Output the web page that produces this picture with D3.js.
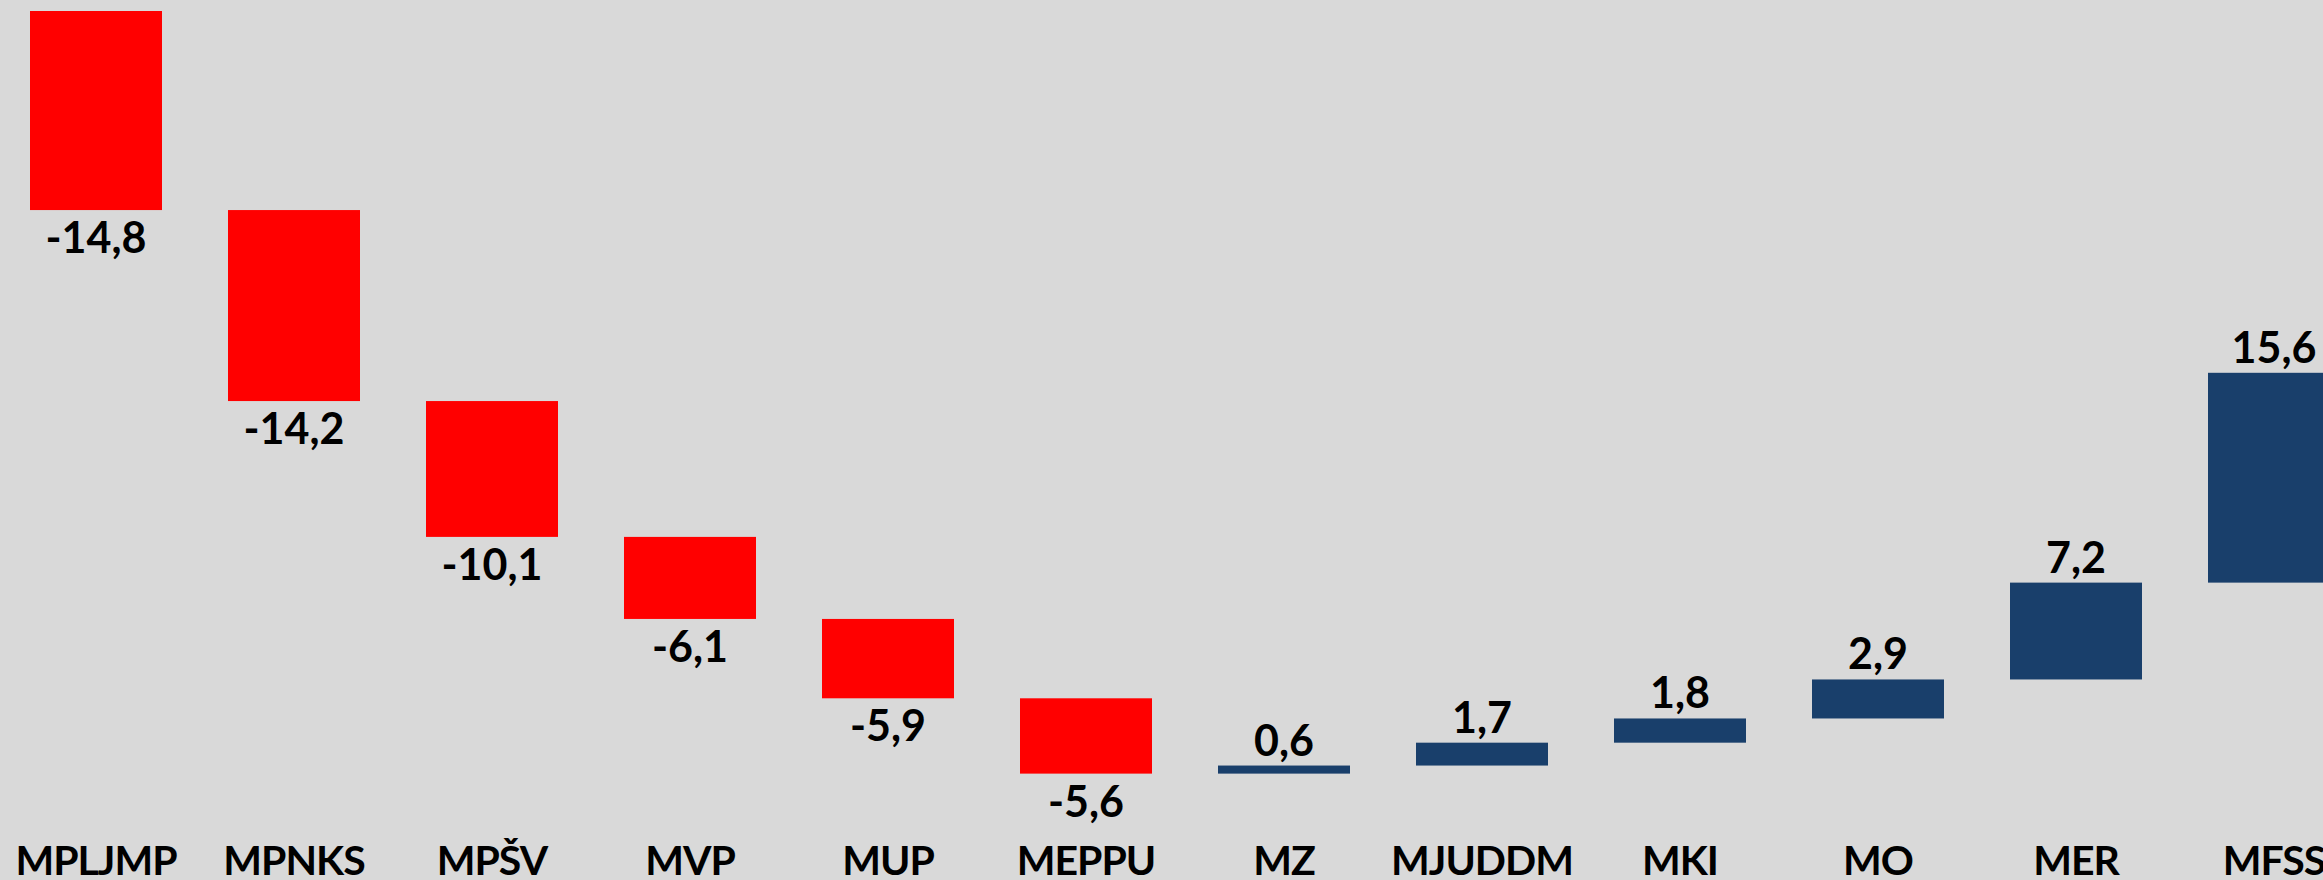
<!DOCTYPE html>
<html lang="en">
<head>
  <meta charset="UTF-8" />
  <title>Waterfall</title>
  <script src="https://cdn.jsdelivr.net/npm/d3@7"></script>
  <style>
    html, body {
      margin: 0;
      padding: 0;
      background-color: #d9d9d9;
      overflow: hidden;
    }
    text {
      font-family: Lato, "Open Sans", sans-serif;
      font-weight: 700;
      fill: #000;
    }
  </style>
</head>
<body>
  <div id="chart"></div>

  <script>
    // data
    const categories = ["MPLJMP", "MPNKS", "MPŠV", "MVP", "MUP", "MEPPU", "MZ", "MJUDDM", "MKI", "MO", "MER", "MFSS"];
    const changes = [-14.8, -14.2, -10.1, -6.1, -5.9, -5.6, 0.6, 1.7, 1.8, 2.9, 7.2, 15.6];
    const valueLabels = ["-14,8", "-14,2", "-10,1", "-6,1", "-5,9", "-5,6", "0,6", "1,7", "1,8", "2,9", "7,2", "15,6"];

    const width = 2323;
    const height = 880;

    // running totals for the floating bars
    let running = 0;
    const data = categories.map((c, i) => {
      const start = running;
      running += changes[i];
      return { cat: c, value: changes[i], label: valueLabels[i], start, end: running };
    });

    const svg = d3.select("#chart")
      .append("svg")
      .attr("width", width)
      .attr("height", height);

    // last column runs past the right edge, like in the original
    const x = d3.scaleBand()
      .domain(categories)
      .range([-3, 2373])
      .paddingInner(1 / 3)
      .paddingOuter(1 / 6);

    const minTotal = d3.min(data, d => Math.min(d.start, d.end));
    const y = d3.scaleLinear()
      .domain([0, minTotal])
      .range([11, 11 + Math.abs(minTotal) * 13.45]);

    svg.selectAll(".bar")
      .data(data)
      .enter()
      .append("rect")
      .attr("class", "bar")
      .attr("x", d => x(d.cat))
      .attr("width", x.bandwidth())
      .attr("y", d => Math.min(y(d.start), y(d.end)))
      .attr("height", d => Math.abs(y(d.start) - y(d.end)))
      .attr("fill", d => d.value < 0 ? "#ff0000" : "#193f6b");

    // value labels: below falling bars, above rising bars
    svg.selectAll(".val")
      .data(data)
      .enter()
      .append("text")
      .attr("class", "val")
      .attr("x", d => x(d.cat) + x.bandwidth() / 2)
      .attr("y", d => d.value < 0 ? y(d.end) + 43 : y(d.end) - 10)
      .attr("text-anchor", "middle")
      .attr("font-size", 43)
      .text(d => d.label);

    // category axis
    const xAxis = svg.append("g")
      .attr("transform", `translate(0, ${height})`)
      .call(d3.axisBottom(x).tickSize(0).tickPadding(0));
    xAxis.select(".domain").remove();
    xAxis.selectAll("text")
      .attr("dy", null)
      .attr("y", -5)
      .attr("font-size", 41)
      .style("letter-spacing", "-1px")
      .style("font-family", "Lato, sans-serif")
      .style("font-weight", 700)
      .attr("fill", "#000");
  </script>
</body>
</html>
